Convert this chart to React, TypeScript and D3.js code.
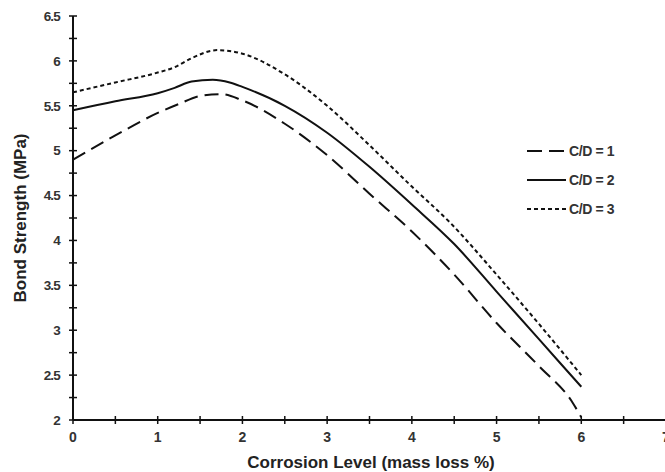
import React from "react";
import * as d3 from "d3";

const cd1X = [0, 0.5, 1, 1.25, 1.5, 1.75, 2, 2.5, 3, 3.5, 4, 4.5, 5, 5.5, 5.9, 6];
const cd1Y = [4.9, 5.17, 5.42, 5.52, 5.61, 5.63, 5.56, 5.3, 4.95, 4.52, 4.1, 3.62, 3.08, 2.6, 2.19, 2.03];
const cd2X = [0, 0.5, 1, 1.2, 1.4, 1.65, 1.85, 2, 2.5, 3, 3.5, 4, 4.5, 5, 5.5, 6];
const cd2Y = [5.45, 5.55, 5.64, 5.7, 5.77, 5.79, 5.76, 5.71, 5.5, 5.2, 4.82, 4.4, 3.96, 3.43, 2.9, 2.37];
const cd3X = [0, 0.5, 1, 1.2, 1.4, 1.7, 2, 2.5, 3, 3.5, 4, 4.45, 5, 5.5, 6];
const cd3Y = [5.65, 5.76, 5.87, 5.93, 6.03, 6.12, 6.08, 5.85, 5.5, 5.06, 4.6, 4.2, 3.62, 3.07, 2.5];

const seriesNames = ["C/D = 1", "C/D = 2", "C/D = 3"];
const xTicks = [0, 1, 2, 3, 4, 5, 6, 7];
const yTicks = [2, 2.5, 3, 3.5, 4, 4.5, 5, 5.5, 6, 6.5];

export default function App() {
  const W = 665, H = 472;
  const x = d3.scaleLinear().domain([0, 7]).range([73, 666]);
  const y = d3.scaleLinear().domain([2, 6.5]).range([420, 16]);
  const line = d3
    .line<[number, number]>()
    .x((d) => x(d[0]))
    .y((d) => y(d[1]))
    .curve(d3.curveMonotoneX);

  const series = [
    { xs: cd1X, ys: cd1Y, dash: "14,7", width: 2 },
    { xs: cd2X, ys: cd2Y, dash: "", width: 2 },
    { xs: cd3X, ys: cd3Y, dash: "4,3", width: 2 },
  ];

  const xMinor = d3.range(0, 7.01, 0.5);
  const yMinor = d3.range(2, 6.51, 0.25);
  const tickFont = "'Liberation Sans', Arial, sans-serif";
  const labelFont = "'Liberation Sans', Arial, sans-serif";

  return (
    <svg
      width={W}
      height={H}
      style={{ position: "absolute", left: 0, top: 0, background: "#fff" }}
    >
      {series.map((s, i) => (
        <path
          key={i}
          d={line(s.xs.map((v, j) => [v, s.ys[j]] as [number, number])) || ""}
          fill="none"
          stroke="#111"
          strokeWidth={s.width}
          strokeDasharray={s.dash || undefined}
        />
      ))}

      <line x1={x(0)} x2={x(0)} y1={y(6.5)} y2={y(2)} stroke="#111" strokeWidth={2} />
      <line x1={x(0)} x2={W} y1={y(2)} y2={y(2)} stroke="#111" strokeWidth={2} />
      {yMinor.map((v, i) => (
        <line key={"yt" + i} x1={x(0) - 4} x2={x(0) + 4} y1={y(v)} y2={y(v)} stroke="#111" strokeWidth={1.5} />
      ))}
      {xMinor.map((v, i) => (
        <line key={"xt" + i} x1={x(v)} x2={x(v)} y1={y(2) - 4} y2={y(2) + 4} stroke="#111" strokeWidth={1.5} />
      ))}
      {yTicks.map((v) => (
        <text
          key={"yl" + v}
          x={60}
          y={y(v)}
          dy="0.35em"
          textAnchor="end"
          fontFamily={tickFont}
          fontWeight="bold"
          fontSize={13.5}
          letterSpacing={-0.8}
          fill="#333"
        >
          {String(v)}
        </text>
      ))}
      {xTicks.map((v) => (
        <text
          key={"xl" + v}
          x={x(v)}
          y={442}
          textAnchor="middle"
          fontFamily={tickFont}
          fontWeight="bold"
          fontSize={14}
          fill="#333"
        >
          {String(v)}
        </text>
      ))}

      <text
        x={371}
        y={468}
        textAnchor="middle"
        fontFamily={labelFont}
        fontWeight="bold"
        fontSize={17}
        fill="#222"
      >
        Corrosion Level (mass loss %)
      </text>
      <text
        transform={`translate(26,218) rotate(-90)`}
        textAnchor="middle"
        fontFamily={labelFont}
        fontWeight="bold"
        fontSize={17}
        fill="#222"
      >
        Bond Strength (MPa)
      </text>

      {series.map((s, i) => {
        const ly = 151 + i * 29;
        return (
          <g key={"lg" + i}>
            <line
              x1={527}
              x2={566}
              y1={ly}
              y2={ly}
              stroke="#111"
              strokeWidth={2}
              strokeDasharray={i === 0 ? "15,7" : i === 2 ? "4,3" : undefined}
            />
            <text
              x={569}
              y={ly}
              dy="0.35em"
              fontFamily={tickFont}
              fontWeight="bold"
              fontSize={14}
              letterSpacing={-0.4}
              fill="#333"
            >
              {seriesNames[i]}
            </text>
          </g>
        );
      })}
    </svg>
  );
}
